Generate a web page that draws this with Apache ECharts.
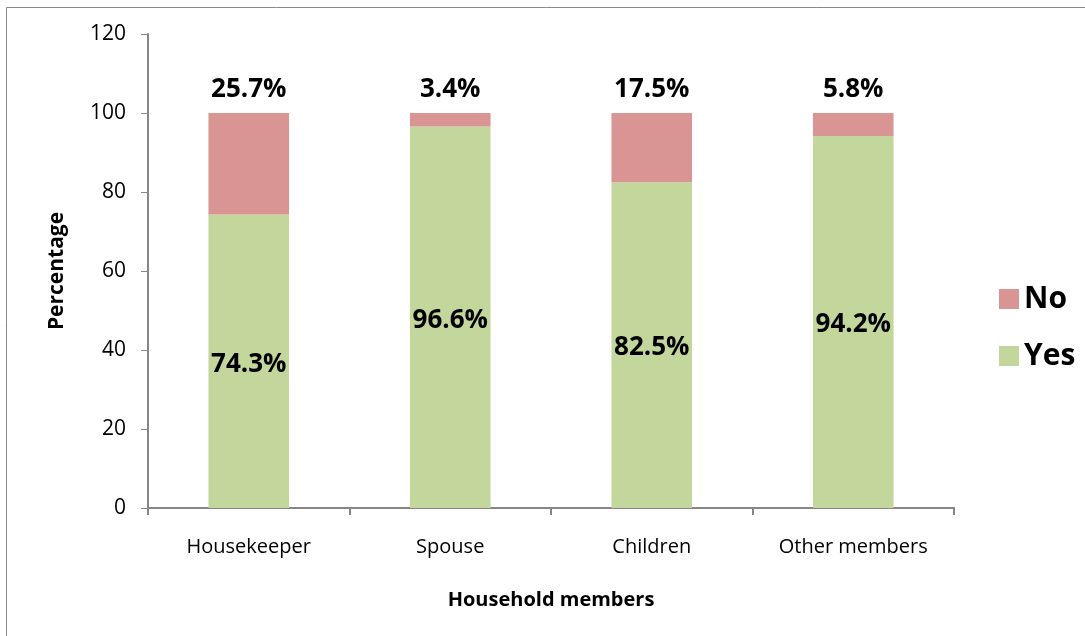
<!DOCTYPE html>
<html>
<head>
<meta charset="utf-8">
<script src="https://cdn.jsdelivr.net/npm/echarts@6/dist/echarts.min.js"></script>
<style>
  html, body { margin: 0; padding: 0; background: #fff; }
  #chart { width: 1085px; height: 636px; }
</style>
</head>
<body>
<div id="chart"></div>
<script>
// household members, share answering yes / no
const categories = ['Housekeeper', 'Spouse', 'Children', 'Other members'];
const yesValues = [74.3, 96.6, 82.5, 94.2];
const noValues = [25.7, 3.4, 17.5, 5.8];
const yTicks = { min: 0, max: 120, interval: 20 };

const font = '"Open Sans", "Noto Sans", sans-serif';
const axisGray = '#868686';

const chart = echarts.init(document.getElementById('chart'));

chart.setOption({
    backgroundColor: '#fff',
    textStyle: { fontFamily: font },
    animation: false,
    graphic: [
        {
            type: 'rect',
            shape: { x: 6.5, y: 7.5, width: 1100, height: 700 },
            style: { fill: 'none', stroke: '#888', lineWidth: 1 },
            silent: true
        }
    ],
    grid: {
        top: 34,
        bottom: 128,
        left: 148,
        right: 131
    },
    legend: {
        orient: 'vertical',
        left: 994,
        top: 279,
        itemWidth: 20,
        itemHeight: 20,
        itemGap: 27,
        icon: 'rect',
        data: ['No', 'Yes'],
        textStyle: {
            fontSize: 30,
            fontWeight: 'bold',
            color: '#000',
            fontFamily: font
        }
    },
    xAxis: {
        type: 'category',
        data: categories,
        name: 'Household members',
        nameLocation: 'middle',
        nameGap: 82,
        nameTextStyle: { fontSize: 20, fontWeight: 'bold', color: '#000' },
        axisLine: { lineStyle: { color: axisGray, width: 2 } },
        axisTick: { show: true, interval: 0, length: 7, lineStyle: { color: axisGray, width: 2 } },
        axisLabel: { interval: 0, fontSize: 20, color: '#000', margin: 29 }
    },
    yAxis: {
        type: 'value',
        min: yTicks.min,
        max: yTicks.max,
        interval: yTicks.interval,
        name: 'Percentage',
        nameLocation: 'middle',
        nameGap: 80,
        nameTextStyle: { fontSize: 21, fontWeight: 'bold', color: '#000' },
        splitLine: { show: false },
        axisLine: { show: true, lineStyle: { color: axisGray, width: 2 } },
        axisTick: { show: true, length: 7, lineStyle: { color: axisGray, width: 1 } },
        axisLabel: { fontSize: 21, color: '#000', margin: 22 }
    },
    series: [
        {
            name: 'Yes',
            type: 'bar',
            stack: 'total',
            data: yesValues,
            barWidth: '40%',
            itemStyle: { color: '#c3d69b' },
            label: {
                show: true,
                position: 'inside',
                offset: [0, 3],
                formatter: p => p.value.toFixed(1) + '%',
                fontSize: 26,
                fontWeight: 'bold',
                color: '#000',
                fontFamily: font
            }
        },
        {
            name: 'No',
            type: 'bar',
            stack: 'total',
            data: noValues,
            barWidth: '40%',
            itemStyle: { color: '#d99594' },
            label: {
                show: true,
                position: 'top',
                distance: 10,
                formatter: p => p.value.toFixed(1) + '%',
                fontSize: 26,
                fontWeight: 'bold',
                color: '#000',
                fontFamily: font
            }
        }
    ]
});
</script>
</body>
</html>
